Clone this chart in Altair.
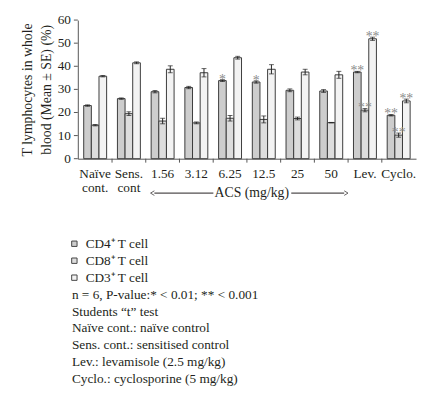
import altair as alt
import pandas as pd

groups = ["Naïve cont.", "Sens. cont", "1.56", "3.12", "6.25", "12.5", "25", "50", "Lev.", "Cyclo."]
series = ["CD4", "CD8", "CD3"]
cd4 = [23.0, 26.0, 29.0, 30.8, 33.8, 33.2, 29.6, 29.3, 37.5, 18.8]
cd4_se = [0.3, 0.3, 0.5, 0.5, 0.4, 0.5, 0.6, 0.6, 0.3, 0.3]
cd8 = [14.5, 19.5, 16.3, 15.5, 17.5, 17.0, 17.4, 15.6, 21.0, 10.2]
cd8_se = [0.3, 0.8, 1.2, 0.4, 1.2, 1.5, 0.6, 0.1, 0.7, 0.9]
cd3 = [35.7, 41.5, 38.7, 37.2, 43.7, 38.7, 37.5, 36.3, 51.9, 25.0]
cd3_se = [0.3, 0.4, 1.5, 1.8, 0.6, 2.0, 1.2, 1.5, 0.7, 0.8]
cd4_sig = ["", "", "", "", "*", "*", "", "", "**", "**"]
cd8_sig = ["", "", "", "", "", "", "", "", "**", "**"]
cd3_sig = ["", "", "", "", "", "", "", "", "**", "**"]
y_ticks = [0, 10, 20, 30, 40, 50, 60]

legend_items = ["CD4⁺ T cell", "CD8⁺ T cell", "CD3⁺ T cell"]
notes = [
    "n = 6, P-value:* < 0.01; ** < 0.001",
    "Students “t” test",
    "Naïve cont.: naïve control",
    "Sens. cont.: sensitised control",
    "Lev.: levamisole (2.5 mg/kg)",
    "Cyclo.: cyclosporine (5 mg/kg)",
]

FONT = "Liberation Serif"
INK = "#231f20"
fills = ["#cdcdcd", "#dddddd", "#f3f3f3"]

rows = []
for s, vals, ses, sig in [("CD4", cd4, cd4_se, cd4_sig), ("CD8", cd8, cd8_se, cd8_sig), ("CD3", cd3, cd3_se, cd3_sig)]:
    for g, v, e, st in zip(groups, vals, ses, sig):
        rows.append({"g": g, "s": s, "v": v, "lo": v - e, "hi": v + e, "sig": st})
df = pd.DataFrame(rows)

W, H = 344, 141
PI, PO = 0.32, 0.175
NSTEP = len(groups) - PI + 2 * PO

xs = alt.Scale(domain=groups, paddingInner=PI, paddingOuter=PO)
xoff = alt.XOffset("s:N", sort=series, scale=alt.Scale(domain=series, paddingInner=0, paddingOuter=0))
yscale = alt.Scale(domain=[0, 60], nice=False)
us = alt.Scale(domain=[0, NSTEP], nice=False, zero=False)

label_expr = ("datum.value == 'Naïve cont.' ? ['Naïve', 'cont.'] : "
              "datum.value == 'Sens. cont' ? ['Sens.', 'cont'] : datum.label")

x_axis = alt.Axis(labelAngle=0, labelExpr=label_expr, ticks=False, labelPadding=8,
                  labelFontSize=13.5, labelFont=FONT, labelColor=INK,
                  domainColor="#555555", labelLineHeight=14, title=None)
y_axis = alt.Axis(labels=False, ticks=False, grid=False, domainColor="#555555",
                  title=["T lymphocytes in whole", "blood (Mean ± SE) (%)"],
                  titleFont=FONT, titleFontSize=14, titleFontWeight="normal",
                  titleColor=INK, titlePadding=25, titleLineHeight=19)


def X():
    return alt.X("g:N", sort=groups, scale=xs, axis=x_axis)


def Y(f):
    return alt.Y(f, scale=yscale, axis=y_axis)


base = alt.Chart(df)

bars = base.mark_bar(stroke="#3a3a3a", strokeWidth=1).encode(
    x=X(), xOffset=xoff, y=Y("v:Q"),
    fill=alt.Fill("s:N", scale=alt.Scale(domain=series, range=fills), legend=None),
)
err = base.mark_rule(color="#222222", strokeWidth=1).encode(
    x=X(), xOffset=xoff, y=Y("lo:Q"), y2="hi:Q")
cap_lo = base.mark_tick(color="#222222", thickness=1, size=5).encode(
    x=X(), xOffset=xoff, y=Y("lo:Q"))
cap_hi = base.mark_tick(color="#222222", thickness=1, size=5).encode(
    x=X(), xOffset=xoff, y=Y("hi:Q"))
stars = base.transform_filter("datum.sig != ''").mark_text(
    font=FONT, fontSize=14, color="#8a8a8a", dy=4, baseline="alphabetic"
).encode(x=X(), xOffset=xoff, y=Y("hi:Q"), text="sig:N")

# y-axis ticks and labels drawn from the tick values through the y scale
ytdf = pd.DataFrame({"t": y_ticks})
ytick = alt.Chart(ytdf).mark_rule(color="#555555").encode(
    x=alt.value(-4), x2=alt.value(0), y=Y("t:Q"))
ylab = alt.Chart(ytdf).mark_text(font=FONT, fontSize=13.5, color=INK, align="right",
                                 baseline="middle").encode(
    x=alt.value(-7), y=Y("t:Q"), text="t:Q")

bar_layer = alt.layer(bars, err, cap_lo, cap_hi, stars, ytick, ylab)

# annotations under the axis, positioned in band-step units
sep_u = [k + 1 + PO - PI / 2 for k in range(len(groups) - 1)]
sep = alt.Chart(pd.DataFrame({"u": sep_u})).mark_rule(color="#555555").encode(
    x=alt.X("u:Q", scale=us, axis=None), y=alt.value(H), y2=alt.value(H + 4))
AY = 176
arr = alt.Chart(pd.DataFrame({"u1": [2.27, 6.33], "u2": [4.02, 7.9]})).mark_rule(color=INK).encode(
    x=alt.X("u1:Q", scale=us, axis=None), x2="u2:Q", y=alt.value(AY))
head_l = alt.Chart(pd.DataFrame({"u": [2.27]})).mark_point(
    shape="M0,-0.6L-1,0L0,0.6", filled=False, color=INK, size=60, strokeWidth=1
).encode(x=alt.X("u:Q", scale=us, axis=None), y=alt.value(AY))
head_r = alt.Chart(pd.DataFrame({"u": [7.9]})).mark_point(
    shape="M0,-0.6L1,0L0,0.6", filled=False, color=INK, size=60, strokeWidth=1
).encode(x=alt.X("u:Q", scale=us, axis=None), y=alt.value(AY))
acs = alt.Chart(pd.DataFrame({"u": [5.16], "t": ["ACS (mg/kg)"]})).mark_text(
    font=FONT, fontSize=14, color=INK, baseline="middle"
).encode(x=alt.X("u:Q", scale=us, axis=None), y=alt.value(AY), text="t:N")

ann_layer = alt.layer(sep, arr, head_l, head_r, acs)

# legend & notes block below
ldf = pd.DataFrame({"r": list(range(len(legend_items) + len(notes))),
                    "t": legend_items + notes})
ldf["f"] = [fills[i] if i < 3 else "" for i in range(len(ldf))]
ldf["sw"] = [i < 3 for i in range(len(ldf))]
ldf["tx"] = [8 if i < 3 else -6 for i in range(len(ldf))]
ly = alt.Y("r:O", axis=None, scale=alt.Scale(type="point", range=[227.5, 365.5], padding=0))
lbase = alt.Chart(ldf)
lsw = lbase.transform_filter("datum.sw").mark_square(
    size=30, stroke="#444444", strokeWidth=1, opacity=1
).encode(x=alt.value(-3.5), y=ly, fill=alt.Fill("f:N", scale=None))
ltx = lbase.mark_text(font=FONT, fontSize=13.5, color=INK, align="left", baseline="middle").encode(
    x=alt.X("tx:Q", axis=None, scale=alt.Scale(domain=[0, 100], range=[0, 100], zero=False, nice=False)),
    y=ly, text="t:N")
leg_layer = alt.layer(lsw, ltx)

chart = alt.layer(bar_layer, ann_layer, leg_layer).resolve_scale(
    x="independent", y="independent"
).properties(
    width=W, height=H, padding={"left": 12, "top": 2, "right": 2, "bottom": 2}
).configure_view(stroke=None)

chart.save("out.html", embed_options={"renderer": "svg", "actions": False})
